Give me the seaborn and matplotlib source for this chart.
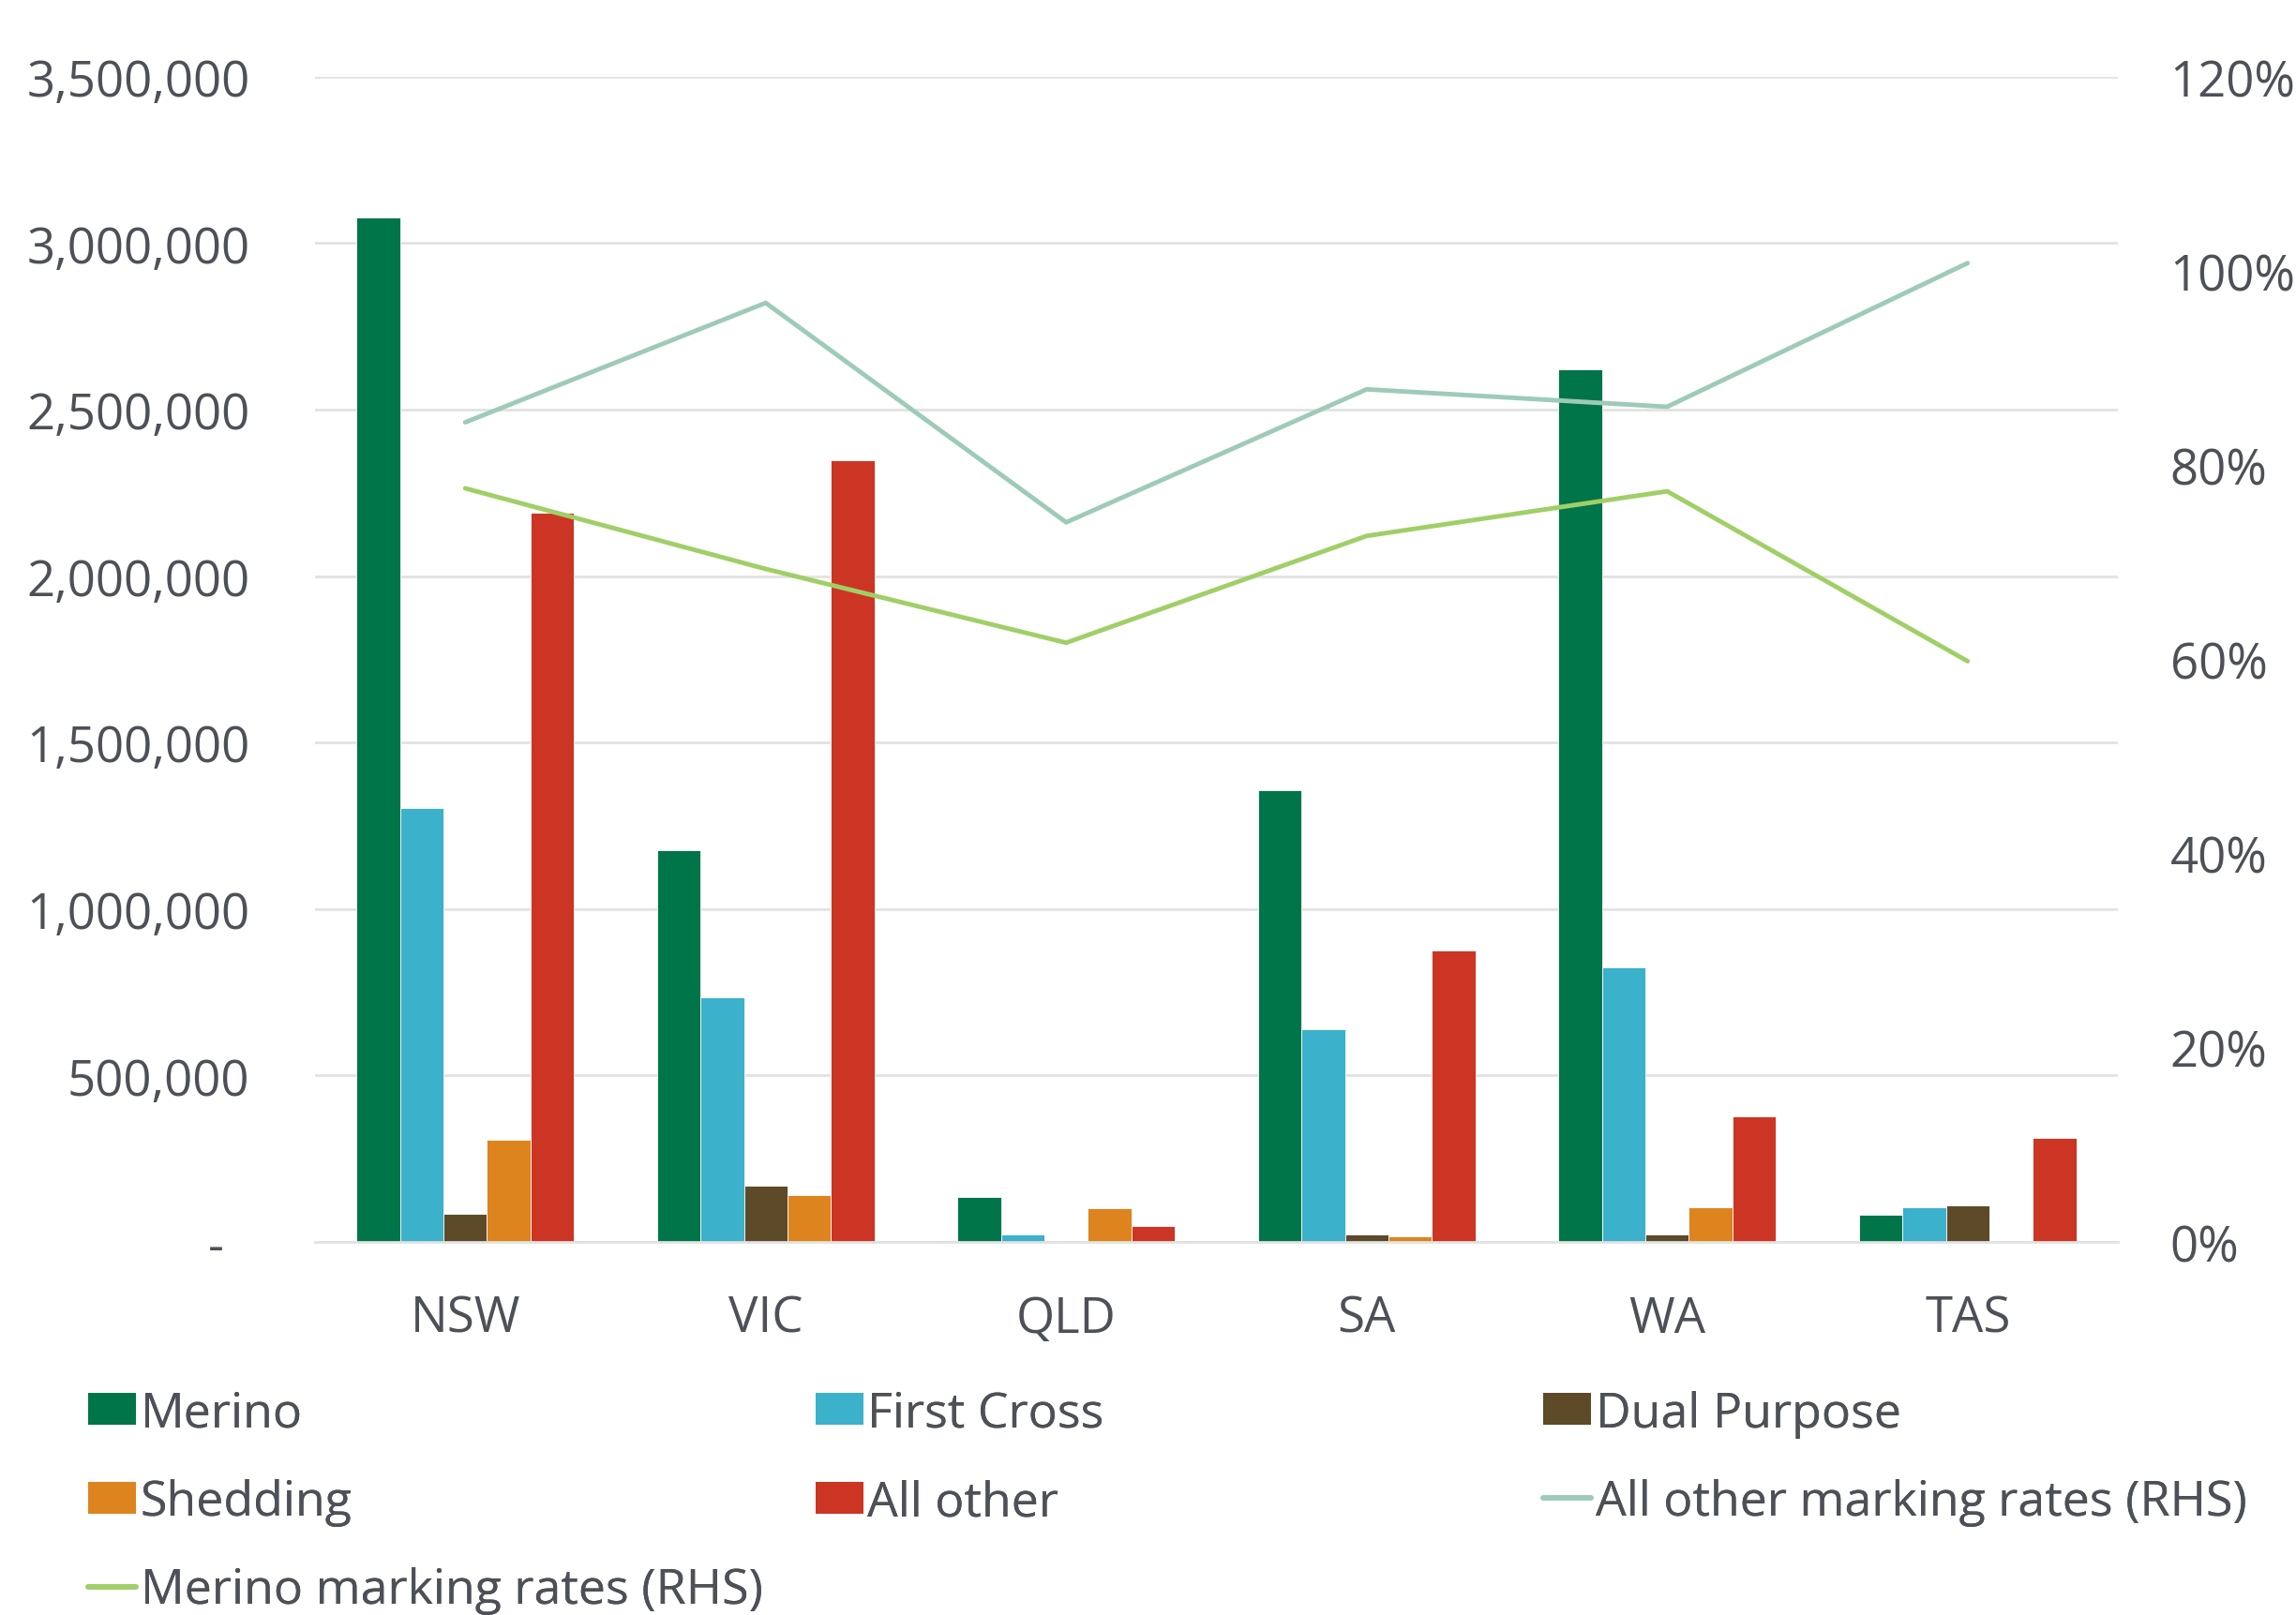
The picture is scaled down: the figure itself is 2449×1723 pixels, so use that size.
import numpy as np
import pandas as pd
import matplotlib
matplotlib.use("Agg")
import matplotlib.pyplot as plt
import seaborn as sns
from matplotlib.ticker import FuncFormatter
from matplotlib.patches import Patch
from matplotlib.lines import Line2D

# Data
states = ["NSW", "VIC", "QLD", "SA", "WA", "TAS"]
breeds = ["Merino", "First Cross", "Dual Purpose", "Shedding", "All other"]
merino = [3078000, 1176000, 134000, 1357000, 2620000, 81000]
first_cross = [1304000, 734000, 21000, 638000, 826000, 105000]
dual_purpose = [85000, 169000, 0, 21000, 23000, 110000]
shedding = [306000, 141000, 101000, 17000, 105000, 0]
all_other = [2190000, 2349000, 48000, 876000, 376000, 312000]

all_other_rate = [84.4, 96.7, 74.1, 87.8, 86.0, 100.8]
merino_rate = [77.6, 69.3, 61.7, 72.7, 77.3, 59.8]

bar_colors = ["#00754A", "#3CB1CB", "#5C4A28", "#DD841E", "#CC3524"]
line_colors = {"All other marking rates (RHS)": "#9DCBB8",
               "Merino marking rates (RHS)": "#A0CF67"}
text_color = "#4D5157"
grid_color = "#E2E2E2"

sns.set_style("white")
plt.rcParams["font.family"] = ["Open Sans", "DejaVu Sans"]
plt.rcParams["font.size"] = 38

bars = pd.DataFrame({
    "State": np.repeat(states, len(breeds)),
    "Breed": breeds * len(states),
    "Count": np.array([merino, first_cross, dual_purpose, shedding, all_other]).T.ravel(),
})

fig = plt.figure(figsize=(24.49, 17.24), dpi=100)
ax = fig.add_axes([0.1372, 0.2309, 0.9224 - 0.1372, 0.952 - 0.2309])

sns.barplot(data=bars, x="State", y="Count", hue="Breed", order=states,
            hue_order=breeds, palette=bar_colors, width=0.724, gap=0,
            saturation=1, edgecolor="white", linewidth=0.6, ax=ax, legend=False)

ax.set_ylim(0, 3500000)
ax.set_xlim(-0.5, len(states) - 0.5)
ax.set_yticks(np.arange(0, 3500001, 500000))
ax.yaxis.set_major_formatter(FuncFormatter(lambda v, p: "-  " if v == 0 else f"{int(v):,}"))
ax.grid(axis="y", color=grid_color, linewidth=2)
ax.set_axisbelow(True)
for s in ["top", "right", "left"]:
    ax.spines[s].set_visible(False)
ax.spines["bottom"].set_color(grid_color)
ax.spines["bottom"].set_linewidth(2)
ax.tick_params(axis="y", length=0, pad=50, labelcolor=text_color, labelsize=38)
ax.tick_params(axis="x", length=0, pad=40, labelcolor=text_color, labelsize=38)
ax.set_xlabel("")
ax.set_ylabel("")

# marking rates on the right axis
ax2 = ax.twinx()
lines = pd.DataFrame({
    "pos": list(range(len(states))) * 2,
    "Rate": all_other_rate + merino_rate,
    "Series": ["All other marking rates (RHS)"] * len(states) + ["Merino marking rates (RHS)"] * len(states),
})
sns.lineplot(data=lines, x="pos", y="Rate", hue="Series", palette=line_colors,
             linewidth=3.5, ax=ax2, legend=False, sort=False)
ax2.set_ylim(0, 120)
ax2.set_yticks(np.arange(0, 121, 20))
ax2.yaxis.set_major_formatter(FuncFormatter(lambda v, p: f"{int(v)}%"))
ax2.tick_params(axis="y", length=0, pad=40, labelcolor=text_color, labelsize=38)
ax2.set_ylabel("")
for s in ax2.spines.values():
    s.set_visible(False)
ax.set_xlim(-0.5, len(states) - 0.5)

# legend, three columns laid out row by row
h = {b: Patch(facecolor=c, edgecolor="none") for b, c in zip(breeds, bar_colors)}
for k, c in line_colors.items():
    h[k] = Line2D([0], [0], color=c, linewidth=4)
columns = [
    ["Merino", "Shedding", "Merino marking rates (RHS)"],
    ["First Cross", "All other"],
    ["Dual Purpose", "All other marking rates (RHS)"],
]
col_x = [0.0384, 0.3552, 0.6721]
for names, x in zip(columns, col_x):
    leg = fig.legend([h[n] for n in names], names, loc="upper left",
                     bbox_to_anchor=(x, 0.1394), frameon=False, fontsize=37.4,
                     handlelength=0.98, handleheight=0.63, handletextpad=0.09,
                     borderpad=0, borderaxespad=0, labelspacing=0.835,
                     labelcolor=text_color)
    fig.add_artist(leg)

fig.savefig("out.png", dpi=100)
